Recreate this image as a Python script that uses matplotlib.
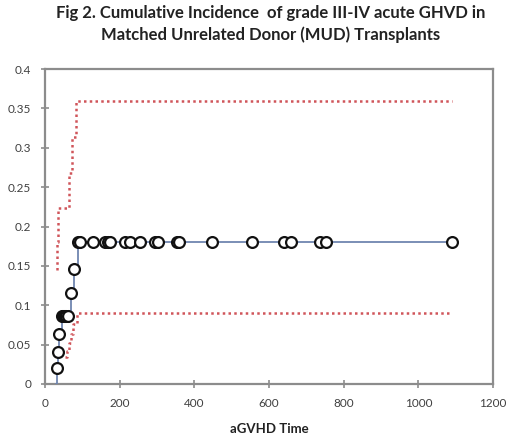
import matplotlib
matplotlib.use("Agg")
import matplotlib.pyplot as plt

# Cumulative incidence estimate (time in days, CIF)
cif_time = [29, 31, 36, 38, 45, 47, 50, 53, 57, 62, 69, 78, 88, 94, 129, 161, 170, 174, 214, 228,
            254, 295, 303, 354, 360, 447, 555, 640, 660, 737, 752, 1090]
cif_val = [0.0, 0.020, 0.041, 0.063, 0.086, 0.086, 0.086, 0.086, 0.086, 0.086, 0.115, 0.1456,
           0.18, 0.18, 0.18, 0.18, 0.18, 0.18, 0.18, 0.18, 0.18, 0.18, 0.18, 0.18, 0.18, 0.18,
           0.18, 0.18, 0.18, 0.18, 0.18, 0.18]
marker_from = 1  # first point is the curve origin, no marker

# Upper confidence bound
upper_time = [31, 33, 36, 65, 73, 82, 1090]
upper_val = [0.145, 0.18, 0.223, 0.268, 0.314, 0.36, 0.36]

# Lower confidence bound
lower_time = [53, 58, 63, 69, 76, 85, 1090]
lower_val = [0.034, 0.042, 0.052, 0.063, 0.076, 0.09, 0.09]

title = "Fig 2. Cumulative Incidence  of grade III-IV acute GHVD in\nMatched Unrelated Donor (MUD) Transplants"
xlabel = "aGVHD Time"
xticks = [0, 200, 400, 600, 800, 1000, 1200]
yticks = [0, 0.05, 0.1, 0.15, 0.2, 0.25, 0.3, 0.35, 0.4]
ytick_labels = ["0", "0.05", "0.1", "0.15", "0.2", "0.25", "0.3", "0.35", "0.4"]

plt.rcParams['font.family'] = ['Lato', 'DejaVu Sans']

fig = plt.figure(figsize=(5.2, 4.41), dpi=100)
ax = fig.add_axes([45/520, 1-384/441, (493-45)/520, (384-69)/441])

red = '#d0555a'
ax.step(upper_time, upper_val, where='post', color=red, linestyle=(0, (1, 1.3)), linewidth=1.8, zorder=2)
ax.step(lower_time, lower_val, where='post', color=red, linestyle=(0, (1, 1.3)), linewidth=1.8, zorder=2)

ax.step(cif_time, cif_val, where='post', color='#6f86b0', linewidth=1.3, zorder=3)
ax.plot(cif_time[marker_from:], cif_val[marker_from:], linestyle='none', marker='o',
        markersize=7.8, markerfacecolor='white', markeredgecolor='#111111', markeredgewidth=1.6, zorder=4)

ax.set_xlim(0, 1200)
ax.set_ylim(0, 0.4)
ax.set_xticks(xticks)
ax.set_xticklabels([str(v) for v in xticks])
ax.set_yticks(yticks)
ax.set_yticklabels(ytick_labels)

for s in ax.spines.values():
    s.set_color('#8c8c8c')
    s.set_linewidth(1.6)
ax.tick_params(axis='both', direction='inout', length=6, width=1.2, color='#8c8c8c',
               labelsize=8.5, labelcolor='#404040', pad=7)

ax.set_xlabel(xlabel, fontsize=9.5, fontweight='bold', color='#222222', labelpad=10)
fig.text(271/520, 1-24/441, title, ha='center', va='center', fontsize=12,
         fontweight='bold', color='#222222', linespacing=1.45)

fig.savefig('out.png', dpi=100, facecolor='white')
